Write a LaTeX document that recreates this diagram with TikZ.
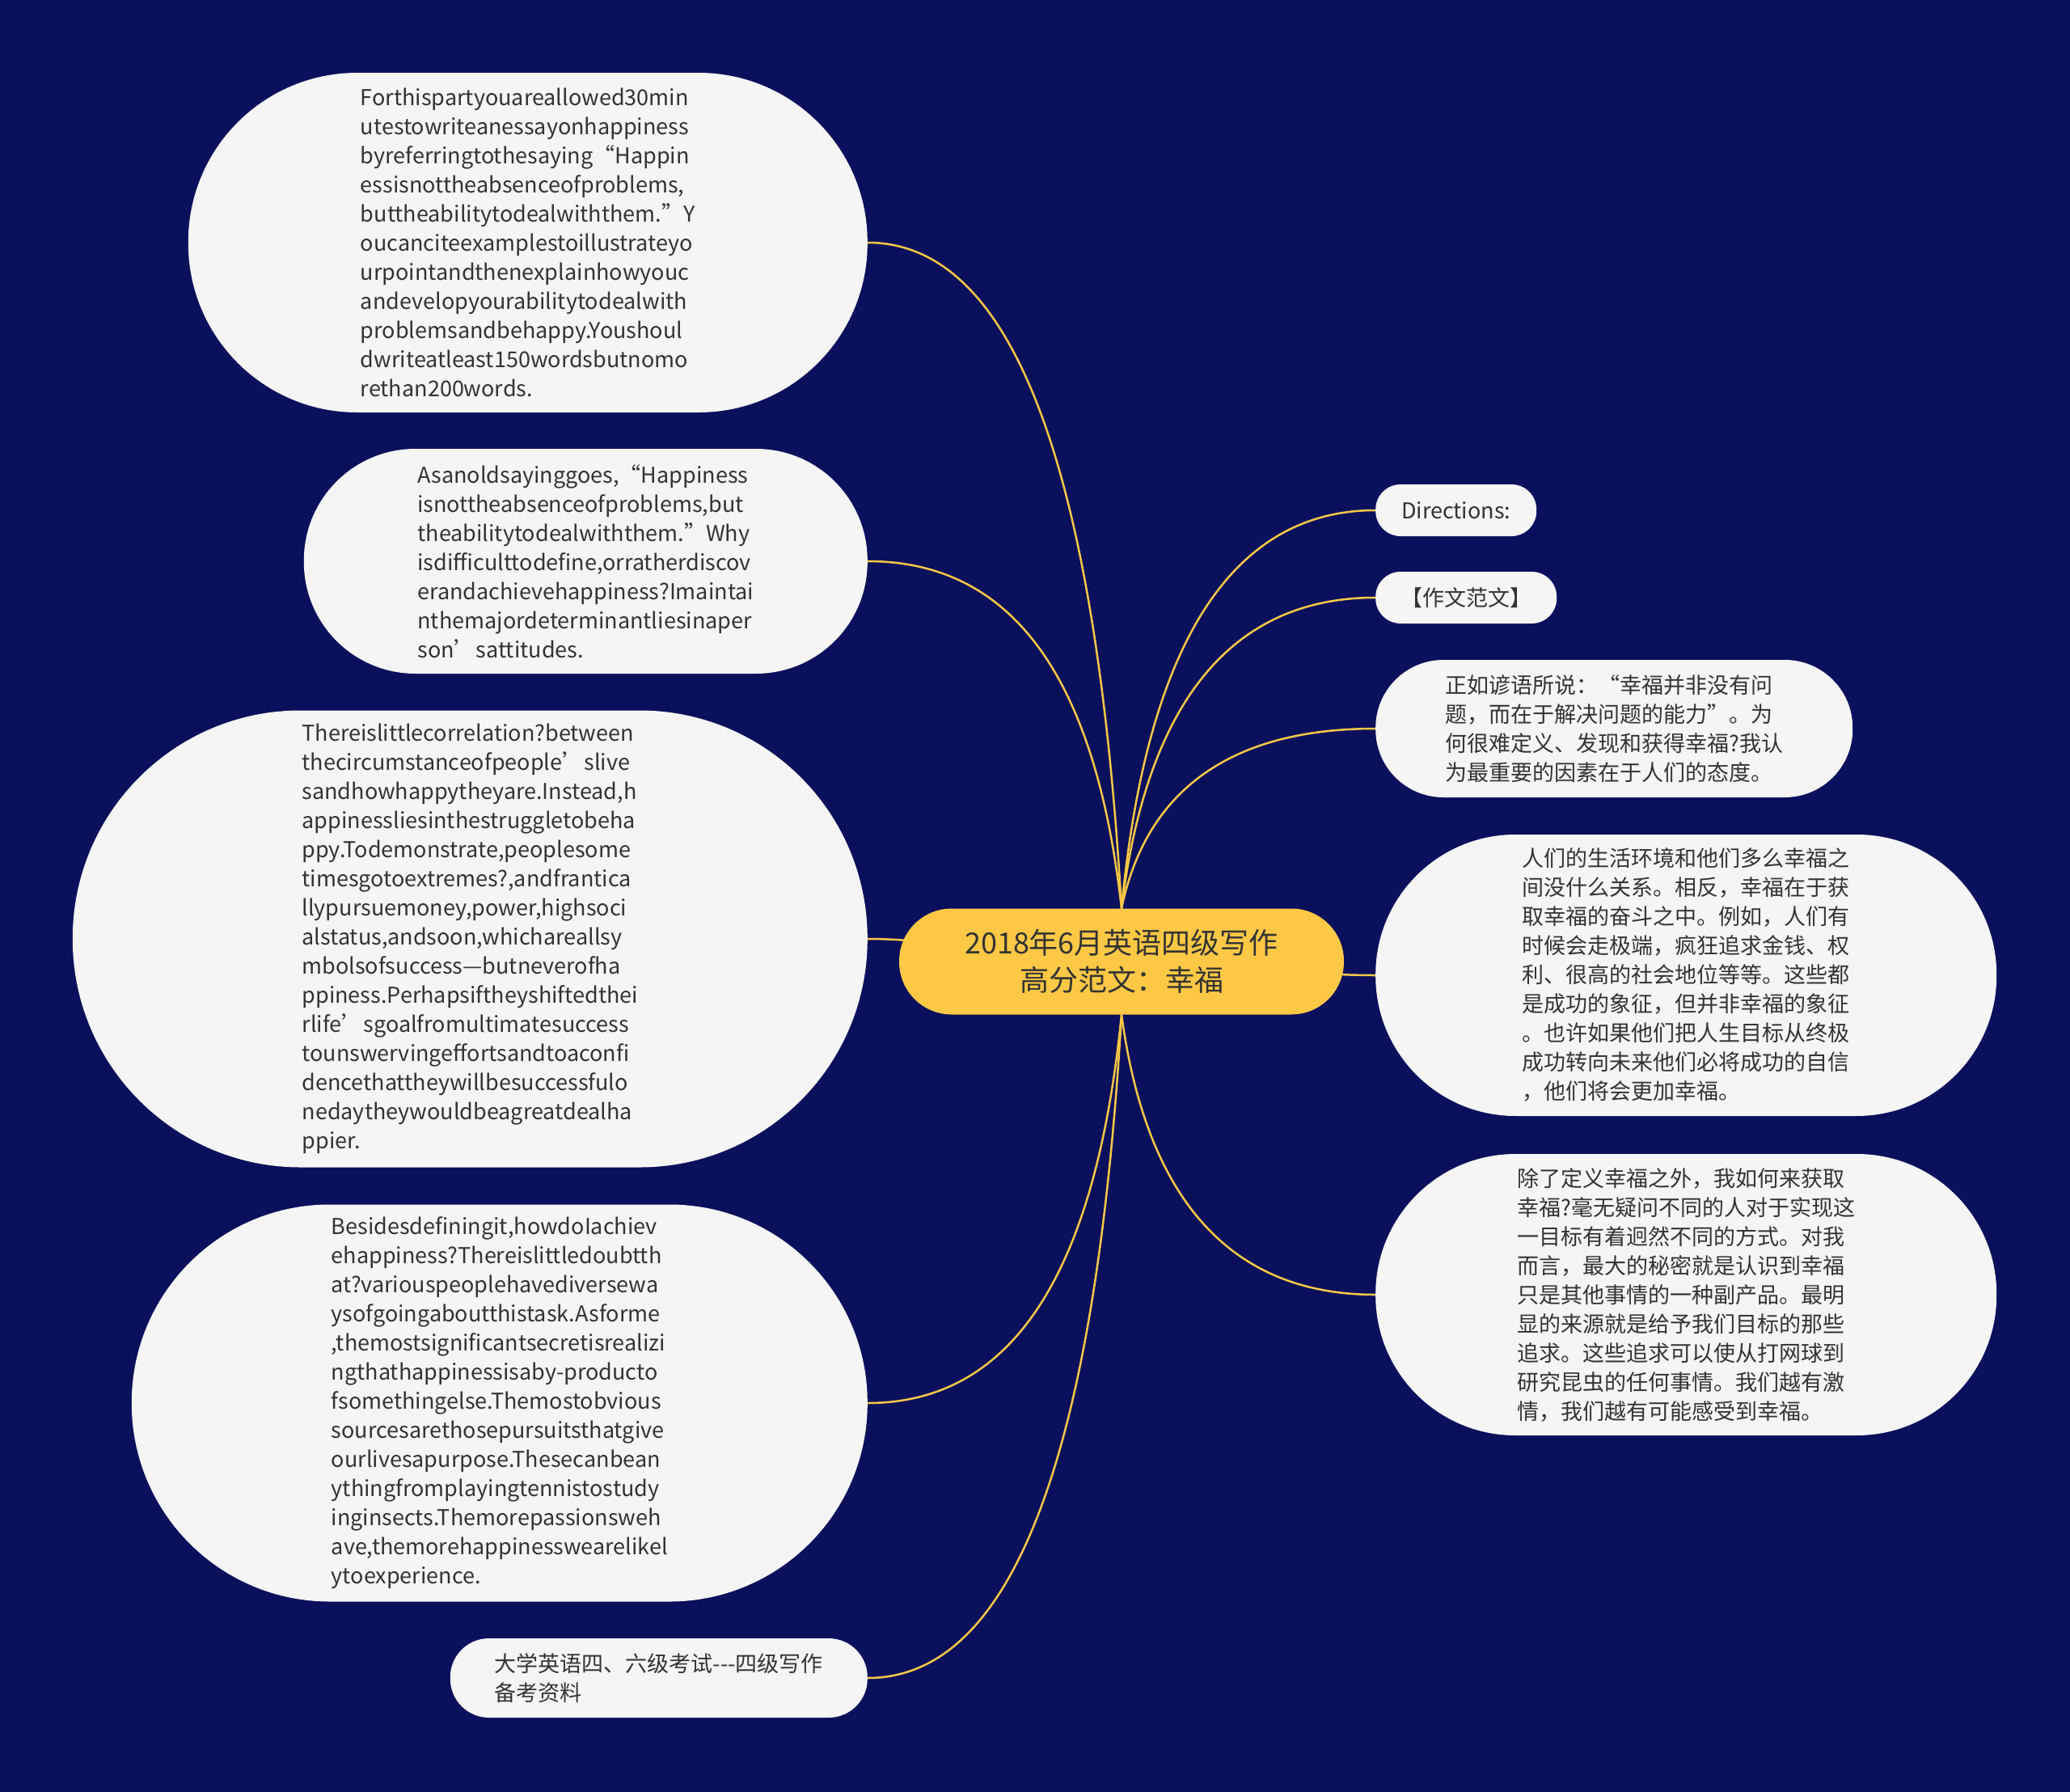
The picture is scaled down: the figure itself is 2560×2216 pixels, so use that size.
\documentclass[tikz,border=0pt]{standalone}
\usepackage{fontspec}
\setmainfont{Noto Sans CJK SC}
\usetikzlibrary{backgrounds}

\definecolor{navy}{HTML}{0B105C}
\definecolor{leafgray}{HTML}{F5F5F5}
\definecolor{rootyellow}{HTML}{FDC845}
\definecolor{linkyellow}{HTML}{F7C846}
\definecolor{ink}{HTML}{333333}

\tikzset{
	leaf/.style={fill=leafgray, text=ink, font=\fontsize{27}{36}\selectfont, align=left, inner sep=0pt},
	link/.style={draw=linkyellow, line width=2.5pt},
}

\begin{document}
\begin{tikzpicture}[x=1pt, y=-1pt]
		\useasboundingbox (0,0) rectangle (2560,2216);
		
		% 中心主题
		\node[fill=rootyellow, text=ink, font=\fontsize{36}{46}\selectfont, align=center, inner sep=0pt,
			minimum width=550pt, minimum height=131pt, rounded corners=65pt] (root) at (1387,1189)
			{2018年6月英语四级写作\\高分范文：幸福};
		
		% 左侧分支
		\node[leaf, anchor=east, minimum width=840pt, minimum height=420pt, rounded corners=209pt] (dirEn) at (1073,300)
			{Forthispartyouareallowed30min\\utestowriteanessayonhappiness\\byreferringtothesaying“Happin\\essisnottheabsenceofproblems,\\buttheabilitytodealwiththem.”Y\\oucanciteexamplestoillustrateyo\\urpointandthenexplainhowyouc\\andevelopyourabilitytodealwith\\problemsandbehappy.Youshoul\\dwriteatleast150wordsbutnomo\\rethan200words.};
		\node[leaf, anchor=east, minimum width=697pt, minimum height=278pt, rounded corners=138pt] (sayEn) at (1073,694)
			{Asanoldsayinggoes,“Happiness\\isnottheabsenceofproblems,but\\theabilitytodealwiththem.”Why\\isdifficulttodefine,orratherdiscov\\erandachievehappiness?Imaintai\\nthemajordeterminantliesinaper\\son’sattitudes.};
		\node[leaf, anchor=east, minimum width=983pt, minimum height=565pt, rounded corners=282pt] (lifeEn) at (1073,1161)
			{Thereislittlecorrelation?between\\thecircumstanceofpeople’slive\\sandhowhappytheyare.Instead,h\\appinessliesinthestruggletobeha\\ppy.Todemonstrate,peoplesome\\timesgotoextremes?,andfrantica\\llypursuemoney,power,highsoci\\alstatus,andsoon,whichareallsy\\mbolsofsuccess—butneverofha\\ppiness.Perhapsiftheyshiftedthei\\rlife’sgoalfromultimatesuccess\\tounswervingeffortsandtoaconfi\\dencethattheywillbesuccessfulo\\nedaytheywouldbeagreatdealha\\ppier.};
		\node[leaf, anchor=east, minimum width=910pt, minimum height=491pt, rounded corners=245pt] (waysEn) at (1073,1735)
			{Besidesdefiningit,howdoIachiev\\ehappiness?Thereislittledoubtth\\at?variouspeoplehavediversewa\\ysofgoingaboutthistask.Asforme\\,themostsignificantsecretisrealizi\\ngthathappinessisaby-producto\\fsomethingelse.Themostobvious\\sourcesarethosepursuitsthatgive\\ourlivesapurpose.Thesecanbean\\ythingfromplayingtennistostudy\\inginsects.Themorepassionsweh\\ave,themorehappinesswearelikel\\ytoexperience.};
		\node[leaf, anchor=east, minimum width=516pt, minimum height=98pt, rounded corners=48pt] (source) at (1073,2075)
			{大学英语四、六级考试-{}-{}-四级写作\\备考资料};
		
		% 右侧分支
		\node[leaf, anchor=west, minimum width=199pt, minimum height=64pt, rounded corners=31pt] (dirs) at (1701,631) {Directions:};
		\node[leaf, anchor=west, minimum width=224pt, minimum height=64pt, rounded corners=31pt] (model) at (1701,739) {【作文范文】};
		\node[leaf, anchor=west, minimum width=590pt, minimum height=170pt, rounded corners=84pt] (sayZh) at (1701,901)
			{正如谚语所说：“幸福并非没有问\\题，而在于解决问题的能力”。为\\何很难定义、发现和获得幸福?我认\\为最重要的因素在于人们的态度。};
		\node[leaf, anchor=west, minimum width=768pt, minimum height=348pt, rounded corners=173pt] (lifeZh) at (1701,1206)
			{人们的生活环境和他们多么幸福之\\间没什么关系。相反，幸福在于获\\取幸福的奋斗之中。例如，人们有\\时候会走极端，疯狂追求金钱、权\\利、很高的社会地位等等。这些都\\是成功的象征，但并非幸福的象征\\。也许如果他们把人生目标从终极\\成功转向未来他们必将成功的自信\\，他们将会更加幸福。};
		\node[leaf, anchor=west, minimum width=768pt, minimum height=348pt, rounded corners=173pt] (waysZh) at (1701,1601)
			{除了定义幸福之外，我如何来获取\\幸福?毫无疑问不同的人对于实现这\\一目标有着迥然不同的方式。对我\\而言，最大的秘密就是认识到幸福\\只是其他事情的一种副产品。最明\\显的来源就是给予我们目标的那些\\追求。这些追求可以使从打网球到\\研究昆虫的任何事情。我们越有激\\情，我们越有可能感受到幸福。};
		
		% 背景与连线
		\begin{scope}[on background layer]
			\fill[navy] (0,0) rectangle (2560,2216);
			\draw[link] (root.north) .. controls +(-32,-549) and +(179,0) .. (dirEn.east);
			\draw[link] (root.north) .. controls +(-32,-286) and +(179,0) .. (sayEn.east);
			\draw[link] (root.center) .. controls +(-100,0) and +(100,0) .. (lifeEn.east);
			\draw[link] (root.south) .. controls +(-32,321) and +(179,0) .. (waysEn.east);
			\draw[link] (root.south) .. controls +(-32,547) and +(179,0) .. (source.east);
			\draw[link] (root.north) .. controls +(31,-328) and +(-177,0) .. (dirs.west);
			\draw[link] (root.north) .. controls +(31,-256) and +(-177,0) .. (model.west);
			\draw[link] (root.north) .. controls +(31,-148) and +(-177,0) .. (sayZh.west);
			\draw[link] (root.center) .. controls +(100,0) and +(-100,0) .. (lifeZh.west);
			\draw[link] (root.south) .. controls +(31,231) and +(-177,0) .. (waysZh.west);
		\end{scope}
	\end{tikzpicture}
\end{document}
